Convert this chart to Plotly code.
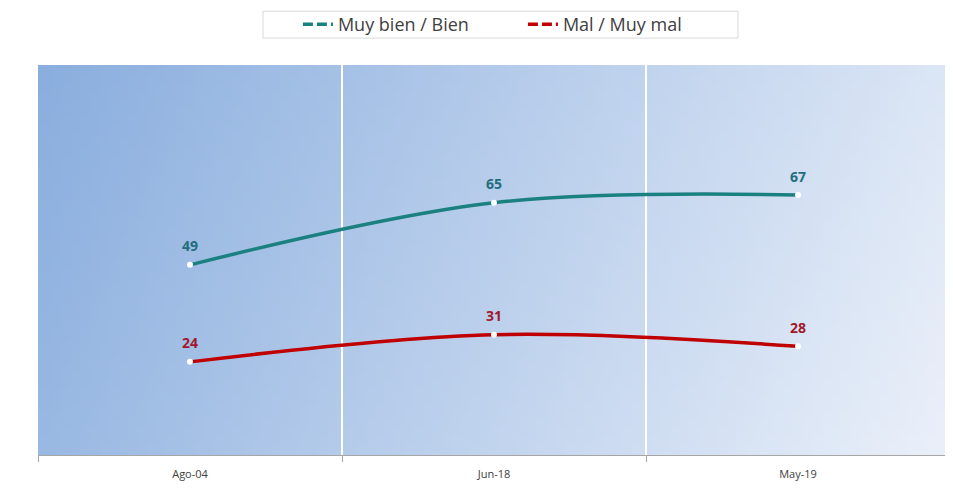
import base64
import struct
import zlib
import plotly.graph_objects as go

# ---- data ----
categories = ["Ago-04", "Jun-18", "May-19"]
muy_bien_bien = [49, 65, 67]
mal_muy_mal = [24, 31, 28]
series_names = ["Muy bien / Bien", "Mal / Muy mal"]
line_colors = ["#1A8080", "#C00000"]
label_colors = ["#236E7D", "#A0182C"]


# ---- gradient background image (styling only) ----
def make_png(w, h, fn):
    rows = []
    for j in range(h):
        row = bytearray(b"\x00")
        for i in range(w):
            row.extend(fn(i / (w - 1), j / (h - 1)))
        rows.append(bytes(row))
    raw = b"".join(rows)

    def chunk(t, d):
        return struct.pack(">I", len(d)) + t + d + struct.pack(">I", zlib.crc32(t + d) & 0xFFFFFFFF)

    return (b"\x89PNG\r\n\x1a\n" + chunk(b"IHDR", struct.pack(">IIBBBBB", w, h, 8, 2, 0, 0, 0))
            + chunk(b"IDAT", zlib.compress(raw)) + chunk(b"IEND", b""))


c0 = (138, 174, 222)
c1 = (233, 239, 249)


def grad(u, v):
    t = min(1.0, max(0.0, 0.86 * u + 0.16 * v))
    return bytes(int(round(a + (b - a) * t)) for a, b in zip(c0, c1))


bg_src = "data:image/png;base64," + base64.b64encode(make_png(96, 48, grad)).decode()

fig = go.Figure()

for name, vals, lc in zip(series_names, [muy_bien_bien, mal_muy_mal], line_colors):
    fig.add_trace(go.Scatter(
        x=categories, y=vals, mode="lines+markers", name=name, showlegend=False,
        line=dict(color=lc, width=3.5, shape="spline", smoothing=1),
        marker=dict(color="white", size=6, line=dict(width=0)),
        hoverinfo="skip",
    ))
    # legend-only entry with dashed symbol
    fig.add_trace(go.Scatter(
        x=[None], y=[None], mode="lines", name=name, showlegend=True,
        line=dict(color=lc, width=3.5, dash="10px,4px"),
    ))

annotations = []
for vals, tc in zip([muy_bien_bien, mal_muy_mal], label_colors):
    for c, v in zip(categories, vals):
        annotations.append(dict(
            x=c, y=v, xref="x", yref="y", text=str(v), showarrow=False,
            yshift=19, font=dict(family="Open Sans", size=14, color=tc, weight="bold"),
        ))

fig.update_layout(
    width=945, height=481,
    margin=dict(l=30, r=3, t=57, b=34, autoexpand=False),
    paper_bgcolor="white",
    plot_bgcolor="rgba(0,0,0,0)",
    font=dict(family="Open Sans", color="#404040"),
    images=[dict(source=bg_src, xref="paper", yref="paper", x=0, y=1, sizex=1, sizey=1,
                 xanchor="left", yanchor="top", sizing="stretch", layer="below")],
    shapes=[dict(type="rect", xref="paper", yref="paper", x0=0.2467, x1=0.7675, y0=1.069, y1=1.138,
                 line=dict(color="#D9D9D9", width=1), fillcolor="white", layer="below")],
    legend=dict(orientation="h", x=0.285, xanchor="left", y=1.104, yanchor="middle",
                bgcolor="rgba(0,0,0,0)", borderwidth=0,
                font=dict(family="Open Sans", size=18, color="#404040"),
                entrywidth=180, itemwidth=30, tracegroupgap=0),
    annotations=annotations,
    showlegend=True,
)

fig.update_xaxes(
    type="category", range=[-0.5, 2.5], tickson="boundaries",
    showgrid=True, gridcolor="white", gridwidth=1.5,
    showline=True, linecolor="#A6A6A6", linewidth=1,
    ticks="outside", ticklen=6, tickcolor="#A6A6A6",
    ticklabelstandoff=9,
    tickfont=dict(family="Open Sans", size=11, color="#404040"),
    fixedrange=True,
)
fig.update_yaxes(
    range=[0, 100.5], showgrid=False, showticklabels=False, zeroline=False, showline=False,
    fixedrange=True,
)

fig.write_html("out.html")
